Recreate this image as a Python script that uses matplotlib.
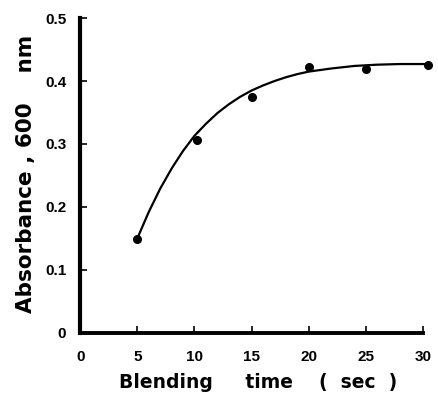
import numpy as np
import matplotlib
matplotlib.use("Agg")
import matplotlib.pyplot as plt

matplotlib.rcParams["font.family"] = "Liberation Sans"
matplotlib.rcParams["font.weight"] = "bold"

# measured points
blend_time = [5, 10.2, 15.0, 20.0, 25.0, 30.4]
absorbance = [0.149, 0.306, 0.375, 0.423, 0.419, 0.426]

# hand drawn smooth curve
curve_x = [5, 6, 7, 8, 9, 10, 11, 12, 13, 14, 15, 16, 17, 18, 19, 20, 22, 24, 26, 28, 30.3]
curve_y = [0.150, 0.192, 0.229, 0.261, 0.289, 0.313, 0.332, 0.349, 0.363, 0.375, 0.385,
           0.393, 0.400, 0.406, 0.411, 0.415, 0.420, 0.424, 0.426, 0.427, 0.427]

x_ticks = [0, 5, 10, 15, 20, 25, 30]
y_ticks = [0, 0.1, 0.2, 0.3, 0.4, 0.5]
y_tick_labels = ["0", "0.1", "0.2", "0.3", "0.4", "0.5"]

fig = plt.figure(figsize=(4.38, 3.93), dpi=100)
ax = fig.add_axes([0.183, 0.153, 0.783, 0.801])

ax.plot(curve_x, curve_y, color="black", linewidth=1.6, clip_on=False)
ax.plot(blend_time, absorbance, "o", color="black", markersize=5.5, clip_on=False)

ax.set_xlim(0, 30)
ax.set_ylim(0, 0.5)
ax.set_xticks(x_ticks)
ax.set_yticks(y_ticks)
ax.set_yticklabels(y_tick_labels)

ax.spines["top"].set_visible(False)
ax.spines["right"].set_visible(False)
ax.spines["left"].set_linewidth(3)
ax.spines["bottom"].set_linewidth(2.8)

ax.tick_params(axis="x", direction="in", length=5, width=1.2, pad=12, labelsize=11)
ax.tick_params(axis="y", direction="in", length=5, width=1.2, pad=10, labelsize=11)

ax.set_xlabel("Blending     time    (  sec  )", fontsize=13.5, fontweight="bold",
              family="DejaVu Sans", labelpad=7)
ax.xaxis.label.set_x(0.52)
ax.set_ylabel("Absorbance , 600    nm", fontsize=15.5, fontweight="bold",
              family="DejaVu Sans")
ax.yaxis.set_label_coords(-0.13, 0.506)

fig.savefig("out.png", dpi=100)
